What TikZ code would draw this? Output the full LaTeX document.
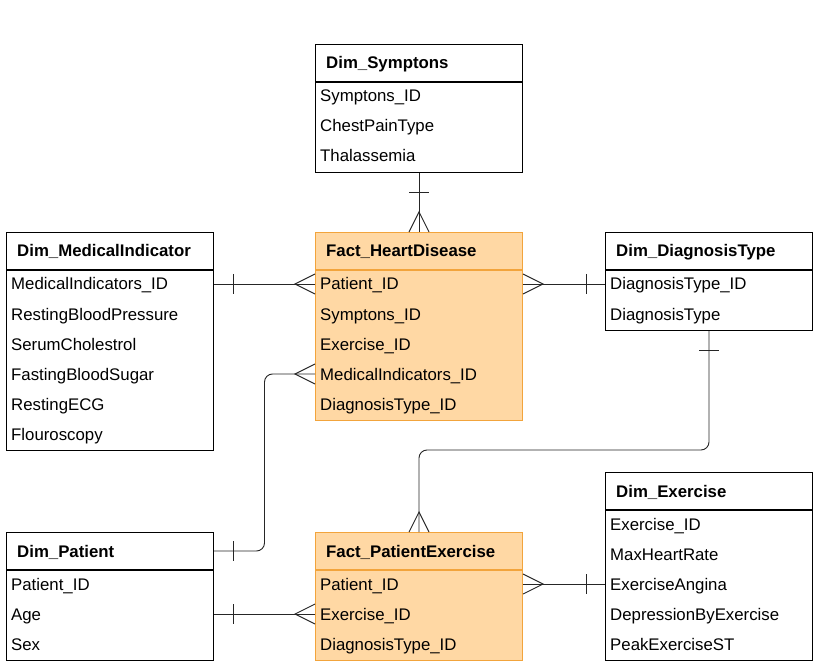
\documentclass[tikz,border=0pt]{standalone}
\usepackage{fontspec}
\setmainfont{Liberation Sans}
\usepackage{tikz}
\usetikzlibrary{calc}
\usepackage{xcolor}
\definecolor{factfill}{HTML}{FFD8A4}
\definecolor{factdraw}{HTML}{F2A43C}
\newcommand{\tablewidth}{207}
\newcommand{\rowheight}{30}
\newcommand{\erdfont}{\fontsize{16.8}{20}\selectfont}
\tikzstyle{tablehead}=[draw=black,line width=1pt,fill=white,minimum width=\tablewidth pt,minimum height=37pt,anchor=north west,inner sep=0pt]
\tikzstyle{tablebody}=[draw=black,line width=1pt,fill=white,minimum width=\tablewidth pt,anchor=north west,inner sep=0pt]
\tikzstyle{facttable}=[draw=factdraw,fill=factfill]
\tikzstyle{headtext}=[anchor=base west,inner sep=0pt,font=\erdfont\bfseries]
\tikzstyle{rowtext}=[anchor=base west,inner sep=0pt,font=\erdfont]
\tikzstyle{relline}=[draw=black!85,line width=0.9pt,rounded corners=8pt]
\tikzstyle{relmark}=[draw=black!85,line width=0.9pt,sharp corners]

\begin{document}
\begin{tikzpicture}[x=1pt,y=-1pt]
  \useasboundingbox (0,0) rectangle (828,671);
  % Dim_Symptons
  \node[tablehead] (sy) at (315,44) {};
  \node[tablebody,minimum height=90pt] (sy_b) at (sy.south west) {};
  \node[headtext] (sy_t) at ($(sy.west)+(11,6)$) {Dim\_Symptons};
  \foreach \r/\txt in {1/Symptons\_ID,2/ChestPainType,3/Thalassemia}
  {
    \node[rowtext] (sy\r) at ($(sy_b.north west)+(5,\r*\rowheight-10)$) {\txt};
  }
  % Dim_MedicalIndicator
  \node[tablehead] (mi) at (6,232) {};
  \node[tablebody,minimum height=180pt] (mi_b) at (mi.south west) {};
  \node[headtext] (mi_t) at ($(mi.west)+(11,6)$) {Dim\_MedicalIndicator};
  \foreach \r/\txt in {1/MedicalIndicators\_ID,2/RestingBloodPressure,3/SerumCholestrol,4/FastingBloodSugar,5/RestingECG,6/Flouroscopy}
  {
    \node[rowtext] (mi\r) at ($(mi_b.north west)+(5,\r*\rowheight-10)$) {\txt};
  }
  % Fact_HeartDisease
  \node[tablehead,facttable] (hd) at (315,232) {};
  \node[tablebody,facttable,minimum height=150pt] (hd_b) at (hd.south west) {};
  \node[headtext] (hd_t) at ($(hd.west)+(11,6)$) {Fact\_HeartDisease};
  \foreach \r/\txt in {1/Patient\_ID,2/Symptons\_ID,3/Exercise\_ID,4/MedicalIndicators\_ID,5/DiagnosisType\_ID}
  {
    \node[rowtext] (hd\r) at ($(hd_b.north west)+(5,\r*\rowheight-10)$) {\txt};
  }
  % Dim_DiagnosisType
  \node[tablehead] (dt) at (605,232) {};
  \node[tablebody,minimum height=60pt] (dt_b) at (dt.south west) {};
  \node[headtext] (dt_t) at ($(dt.west)+(11,6)$) {Dim\_DiagnosisType};
  \foreach \r/\txt in {1/DiagnosisType\_ID,2/DiagnosisType}
  {
    \node[rowtext] (dt\r) at ($(dt_b.north west)+(5,\r*\rowheight-10)$) {\txt};
  }
  % Dim_Exercise
  \node[tablehead] (ex) at (605,472) {};
  \node[tablebody,minimum height=150pt] (ex_b) at (ex.south west) {};
  \node[headtext] (ex_t) at ($(ex.west)+(11,6)$) {Dim\_Exercise};
  \foreach \r/\txt in {1/Exercise\_ID,2/MaxHeartRate,3/ExerciseAngina,4/DepressionByExercise,5/PeakExerciseST}
  {
    \node[rowtext] (ex\r) at ($(ex_b.north west)+(5,\r*\rowheight-10)$) {\txt};
  }
  % Dim_Patient
  \node[tablehead] (pa) at (6,532) {};
  \node[tablebody,minimum height=90pt] (pa_b) at (pa.south west) {};
  \node[headtext] (pa_t) at ($(pa.west)+(11,6)$) {Dim\_Patient};
  \foreach \r/\txt in {1/Patient\_ID,2/Age,3/Sex}
  {
    \node[rowtext] (pa\r) at ($(pa_b.north west)+(5,\r*\rowheight-10)$) {\txt};
  }
  % Fact_PatientExercise
  \node[tablehead,facttable] (pe) at (315,532) {};
  \node[tablebody,facttable,minimum height=90pt] (pe_b) at (pe.south west) {};
  \node[headtext] (pe_t) at ($(pe.west)+(11,6)$) {Fact\_PatientExercise};
  \foreach \r/\txt in {1/Patient\_ID,2/Exercise\_ID,3/DiagnosisType\_ID}
  {
    \node[rowtext] (pe\r) at ($(pe_b.north west)+(5,\r*\rowheight-10)$) {\txt};
  }
  % row levels for the links
  \foreach \t/\r in {mi/1,hd/1,hd/4,dt/1,pa/2,pe/1,pe/2,ex/3}
  {
    \coordinate (\t\r_y) at ($(\t_b.north)+(0,\r*\rowheight-16)$);
  }
  % Dim_Symptons -- Fact_HeartDisease
  \path[relline] (sy_b.south) -- (hd.north);
  \path[relmark] ($(sy_b.south)+(-10,19)$) -- ($(sy_b.south)+(10,19)$);
  \path[relmark] ($(hd.north)+(-10,0)$) -- ($(hd.north)+(0,-20)$) -- ($(hd.north)+(10,0)$);
  % Dim_MedicalIndicator -- Fact_HeartDisease
  \path[relline] (mi_b.east |- mi1_y) -- (hd_b.west |- hd1_y);
  \path[relmark] ($(mi_b.east |- mi1_y)+(19,-10)$) -- ($(mi_b.east |- mi1_y)+(19,10)$);
  \path[relmark] ($(hd_b.west |- hd1_y)+(0,-10)$) -- ($(hd_b.west |- hd1_y)+(-20,0)$) -- ($(hd_b.west |- hd1_y)+(0,10)$);
  % Fact_HeartDisease -- Dim_DiagnosisType
  \path[relline] (hd_b.east |- hd1_y) -- (dt_b.west |- dt1_y);
  \path[relmark] ($(hd_b.east |- hd1_y)+(0,-10)$) -- ($(hd_b.east |- hd1_y)+(20,0)$) -- ($(hd_b.east |- hd1_y)+(0,10)$);
  \path[relmark] ($(dt_b.west |- dt1_y)+(-19,-10)$) -- ($(dt_b.west |- dt1_y)+(-19,10)$);
  % Dim_Patient -- Fact_HeartDisease
  \coordinate (pa_hd) at ($(pa.east)!0.5!(hd_b.west |- hd4_y)$);
  \path[relline] (pa.east) -| (pa_hd) |- (hd_b.west |- hd4_y);
  \path[relmark] ($(pa.east)+(19,-10)$) -- ($(pa.east)+(19,10)$);
  \path[relmark] ($(hd_b.west |- hd4_y)+(0,-10)$) -- ($(hd_b.west |- hd4_y)+(-20,0)$) -- ($(hd_b.west |- hd4_y)+(0,10)$);
  % Dim_DiagnosisType -- Fact_PatientExercise
  \path[relline] (dt_b.south) -- ++(0,119) -| (pe.north);
  \path[relmark] ($(dt_b.south)+(-10,19)$) -- ($(dt_b.south)+(10,19)$);
  \path[relmark] ($(pe.north)+(-10,0)$) -- ($(pe.north)+(0,-20)$) -- ($(pe.north)+(10,0)$);
  % Dim_Patient -- Fact_PatientExercise
  \path[relline] (pa_b.east |- pa2_y) -- (pe_b.west |- pe2_y);
  \path[relmark] ($(pa_b.east |- pa2_y)+(19,-10)$) -- ($(pa_b.east |- pa2_y)+(19,10)$);
  \path[relmark] ($(pe_b.west |- pe2_y)+(0,-10)$) -- ($(pe_b.west |- pe2_y)+(-20,0)$) -- ($(pe_b.west |- pe2_y)+(0,10)$);
  % Fact_PatientExercise -- Dim_Exercise
  \path[relline] (pe_b.east |- pe1_y) -- (ex_b.west |- ex3_y);
  \path[relmark] ($(pe_b.east |- pe1_y)+(0,-10)$) -- ($(pe_b.east |- pe1_y)+(20,0)$) -- ($(pe_b.east |- pe1_y)+(0,10)$);
  \path[relmark] ($(ex_b.west |- ex3_y)+(-19,-10)$) -- ($(ex_b.west |- ex3_y)+(-19,10)$);
\end{tikzpicture}
\end{document}
